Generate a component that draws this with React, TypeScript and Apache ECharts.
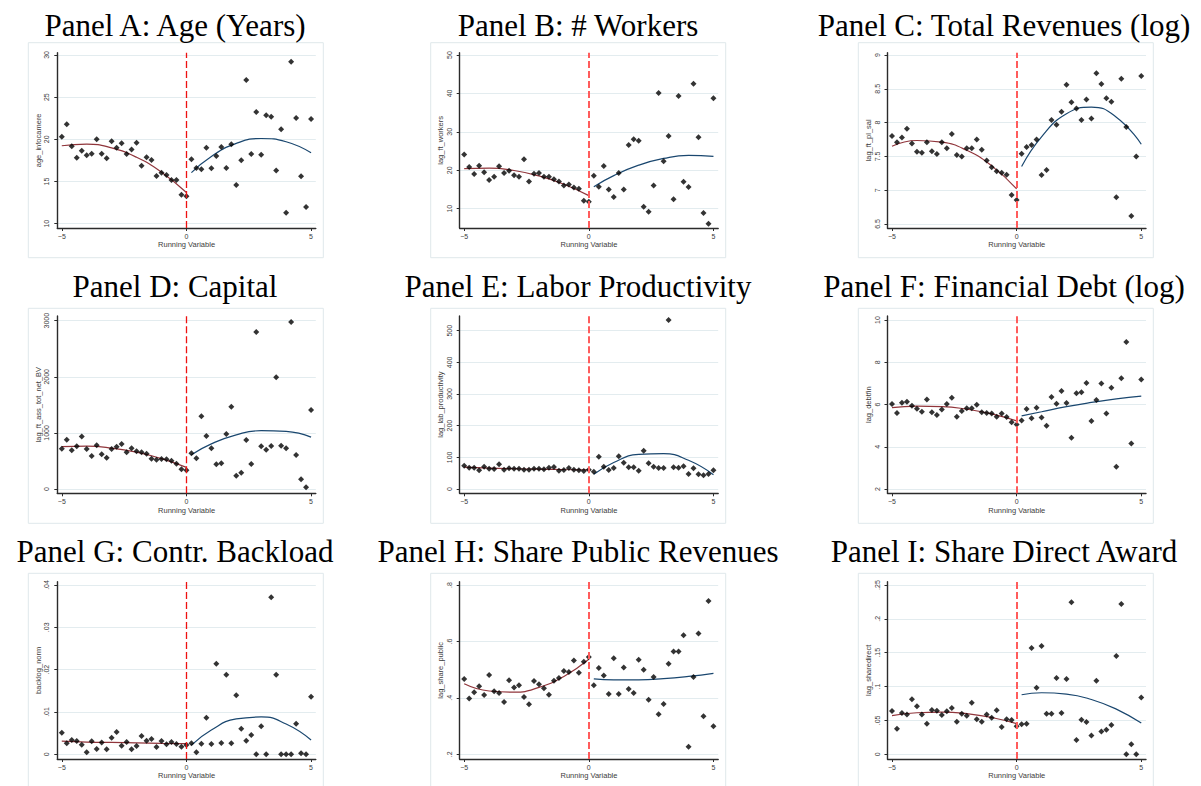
import React, { useEffect, useRef } from "react";
import * as echarts from "echarts";

// Bin midpoints of the running variable
const binsLeft = [-5, -4.8, -4.6, -4.4, -4.2, -4, -3.8, -3.6, -3.4, -3.2, -3, -2.8, -2.6, -2.4, -2.2, -2, -1.8, -1.6, -1.4, -1.2, -1, -0.8, -0.6, -0.4, -0.2, 0];
const binsRight = [0.2, 0.4, 0.6, 0.8, 1, 1.2, 1.4, 1.6, 1.8, 2, 2.2, 2.4, 2.6, 2.8, 3, 3.2, 3.4, 3.6, 3.8, 4, 4.2, 4.4, 4.6, 4.8, 5];
// Points at which the fitted polynomials are drawn
const fitXLeft = [-5, -4, -3, -2, -1, 0];
const fitXRight = [0.2, 1, 2, 3, 4, 5];
const xTicks = [-5, 0, 5];

// Panel A: Age (Years)
const ageLeft = [20.32, 21.78, 19.17, 17.83, 18.66, 18.1, 18.3, 20.0, 18.3, 17.75, 19.76, 19.01, 19.53, 18.26, 18.81, 19.6, 16.88, 17.87, 17.55, 15.65, 16.05, 15.77, 15.18, 15.18, 13.44, 13.24];
const ageRight = [17.63, 16.6, 16.44, 19.01, 16.56, 18.02, 19.09, 16.6, 19.41, 14.58, 17.51, 27.04, 18.26, 23.24, 18.18, 22.85, 22.69, 16.32, 21.19, 11.3, 29.21, 22.53, 15.61, 11.98, 22.41];
const ageFitLeft = [19.24, 19.44, 18.98, 17.87, 16.11, 13.7];
const ageFitRight = [16.05, 17.98, 19.52, 20.1, 19.71, 18.4];
const ageTicks = [10, 15, 20, 25, 30];

// Panel B: # Workers
const workersLeft = [24.14, 20.85, 19.02, 21.19, 19.46, 17.46, 18.33, 21.02, 19.28, 19.89, 18.68, 18.33, 22.84, 17.11, 19.11, 19.28, 18.33, 18.33, 17.64, 17.11, 16.07, 16.33, 15.55, 15.21, 12.08, 11.82];
const workersRight = [18.59, 15.73, 21.11, 15.03, 13.04, 19.28, 15.03, 26.57, 28.05, 27.7, 10.52, 9.22, 16.07, 40.11, 22.32, 28.92, 12.43, 39.33, 17.03, 15.64, 42.54, 28.57, 8.87, 6.1, 38.72];
const workersFitLeft = [20.41, 20.56, 19.94, 18.54, 16.36, 13.4];
const workersFitRight = [15.73, 18.6, 21.33, 23.08, 23.86, 23.6];
const workersTicks = [10, 20, 30, 40, 50];

// Panel C: Total Revenues (log)
const revenuesLeft = [7.8, 7.71, 7.78, 7.91, 7.69, 7.57, 7.555, 7.71, 7.575, 7.535, 7.71, 7.62, 7.83, 7.52, 7.5, 7.62, 7.62, 7.75, 7.6, 7.44, 7.34, 7.28, 7.26, 7.23, 6.93, 6.855];
const revenuesRight = [7.54, 7.64, 7.67, 7.75, 7.225, 7.3, 8.04, 7.97, 8.16, 8.56, 8.3, 8.21, 8.04, 8.34, 8.06, 8.73, 8.57, 8.36, 8.31, 6.895, 8.65, 7.935, 6.62, 7.5, 8.69];
const revenuesFitLeft = [7.65, 7.735, 7.71, 7.59, 7.36, 7.02];
const revenuesFitRight = [7.35, 7.79, 8.13, 8.23, 8.08, 7.68];
const revenuesTicks = [6.5, 7, 7.5, 8, 8.5, 9];

// Panel D: Capital
const capitalLeft = [719, 879, 689, 760, 938, 713, 588, 778, 618, 558, 713, 754, 802, 653, 725, 671, 653, 630, 540, 523, 535, 529, 505, 451, 350, 333];
const capitalRight = [636, 547, 1295, 944, 725, 439, 457, 980, 1467, 237, 291, 873, 445, 2798, 760, 701, 766, 1990, 772, 725, 2976, 606, 172, 30, 1408];
const capitalFitLeft = [755, 763, 730, 656, 541, 385];
const capitalFitRight = [612, 804, 966, 1040, 1027, 924];
const capitalTicks = [0, 1000, 2000, 3000];

// Panel E: Labor Productivity
const productivityLeft = [73.7, 67.4, 67.4, 59.0, 70.5, 64.2, 63.2, 77.9, 61.1, 65.3, 64.2, 64.2, 61.1, 61.1, 64.2, 64.2, 62.1, 67.4, 69.5, 57.9, 60.0, 66.3, 61.1, 59.0, 56.8, 61.1];
const productivityRight = [54.7, 102.1, 70.5, 60.0, 66.3, 103.2, 83.2, 68.4, 68.4, 57.9, 121.1, 81.1, 70.5, 66.3, 66.3, 533.7, 68.4, 67.4, 71.6, 47.4, 65.3, 46.3, 43.2, 47.4, 59.0];
const productivityFitLeft = [69, 66, 64, 62.5, 61.5, 60.5];
const productivityFitRight = [46.3, 83.6, 109.3, 111.6, 90.6, 45];
const productivityTicks = [0, 100, 200, 300, 400, 500];

// Panel F: Financial Debt (log)
const debtLeft = [6.02, 5.6, 6.09, 6.13, 5.94, 5.8, 5.66, 6.24, 5.64, 5.5, 5.77, 6.02, 6.32, 5.42, 5.69, 5.83, 5.83, 5.99, 5.64, 5.6, 5.58, 5.42, 5.58, 5.41, 5.16, 5.05];
const debtRight = [5.25, 5.79, 5.35, 5.85, 5.39, 5.0, 6.36, 6.04, 6.64, 6.07, 4.43, 6.53, 6.58, 7.02, 5.22, 6.21, 7.0, 5.58, 6.8, 3.06, 7.24, 8.96, 4.16, null, 7.19];
const debtFitLeft = [5.85, 5.925, 5.905, 5.78, 5.56, 5.23];
const debtFitRight = [5.46, 5.66, 5.9, 6.1, 6.27, 6.4];
const debtTicks = [2, 4, 6, 8, 10];

// Panel G: Contr. Backload
const backlogLeft = [0.00512, 0.0026, 0.00339, 0.00315, 0.00228, 0.00047, 0.00307, 0.00126, 0.00276, 0.00118, 0.00394, 0.00528, 0.00205, 0.00291, 0.00118, 0.00197, 0.00433, 0.00323, 0.00362, 0.00173, 0.00315, 0.00236, 0.00291, 0.00244, 0.00181, 0.0022];
const backlogRight = [0.0026, 0.00047, 0.00252, 0.00866, 0.00244, 0.02142, 0.00268, 0.01882, 0.0026, 0.01394, 0.00606, 0.00323, 0.00457, 0, 0.00661, 0, 0.03709, 0.01882, 0, 0, 0, 0.00724, 0.00024, 0, 0.01362];
const backlogFitLeft = [0.0031, 0.0029, 0.0028, 0.0027, 0.0026, 0.0025];
const backlogFitRight = [0.00217, 0.00576, 0.00835, 0.00882, 0.00716, 0.00339];
const backlogTicks = [0, 0.01, 0.02, 0.03, 0.04];

// Panel H: Share Public Revenues
const publicLeft = [0.467, 0.398, 0.42, 0.441, 0.41, 0.481, 0.423, 0.417, 0.385, 0.462, 0.437, 0.445, 0.403, 0.377, 0.46, 0.448, 0.434, 0.411, 0.461, 0.47, 0.495, 0.492, 0.532, 0.489, 0.528, 0.545];
const publicRight = [0.445, 0.506, 0.479, 0.414, 0.54, 0.414, 0.508, 0.431, 0.417, 0.535, 0.5, 0.393, 0.474, 0.342, 0.378, 0.521, 0.564, 0.564, 0.622, 0.227, 0.474, 0.628, 0.335, 0.743, 0.299];
const publicFitLeft = [0.45, 0.4243, 0.42, 0.437, 0.476, 0.537];
const publicFitRight = [0.467, 0.464, 0.464, 0.468, 0.476, 0.487];
const publicTicks = [0.2, 0.4, 0.6, 0.8];

// Panel I: Share Direct Award
const directLeft = [0.064, 0.0379, 0.061, 0.0586, 0.0812, 0.0709, 0.0586, 0.0453, 0.0655, 0.0645, 0.0581, 0.0635, 0.0684, 0.0482, 0.06, 0.0571, 0.0763, 0.0517, 0.0482, 0.0586, 0.0541, 0.065, 0.0404, 0.0517, 0.0507, 0.0413];
const directRight = [0.0443, 0.0453, 0.157, 0.0984, 0.16, 0.06, 0.06, 0.1127, 0.061, 0.1112, 0.2244, 0.0212, 0.0512, 0.0477, 0.0276, 0.1088, 0.0335, 0.0364, 0.0433, 0.1452, 0.222, 0, 0.0148, 0, 0.0837];
const directFitLeft = [0.0571, 0.0614, 0.0624, 0.0601, 0.0544, 0.0453];
const directFitRight = [0.0879, 0.0909, 0.089, 0.081, 0.0667, 0.0462];
const directTicks = [0, 0.05, 0.1, 0.15, 0.2, 0.25];

type Panel = {
  title: string;
  yName: string;
  left: (number | null)[];
  right: (number | null)[];
  fitLeft: number[];
  fitRight: number[];
  ticks: number[];
  yMin: number;
  yMax: number;
};

const panels: Panel[] = [
  { title: "Panel A: Age (Years)", yName: "age_infocamere", left: ageLeft, right: ageRight, fitLeft: ageFitLeft, fitRight: ageFitRight, ticks: ageTicks, yMin: 9.49, yMax: 30.27 },
  { title: "Panel B: # Workers", yName: "lag_ft_workers", left: workersLeft, right: workersRight, fitLeft: workersFitLeft, fitRight: workersFitRight, ticks: workersTicks, yMin: 4.98, yMax: 50.6 },
  { title: "Panel C: Total Revenues (log)", yName: "lag_ft_pl_sal", left: revenuesLeft, right: revenuesRight, fitLeft: revenuesFitLeft, fitRight: revenuesFitRight, ticks: revenuesTicks, yMin: 6.441, yMax: 9.034 },
  { title: "Panel D: Capital", yName: "lag_ft_ass_tot_net_BV", left: capitalLeft, right: capitalRight, fitLeft: capitalFitLeft, fitRight: capitalFitRight, ticks: capitalTicks, yMin: -76.6, yMax: 3083.8 },
  { title: "Panel E: Labor Productivity", yName: "lag_lab_productivity", left: productivityLeft, right: productivityRight, fitLeft: productivityFitLeft, fitRight: productivityFitRight, ticks: productivityTicks, yMin: -13.6, yMax: 546.4 },
  { title: "Panel F: Financial Debt (log)", yName: "lag_debtfin", left: debtLeft, right: debtRight, fitLeft: debtFitLeft, fitRight: debtFitRight, ticks: debtTicks, yMin: 1.8, yMax: 10.19 },
  { title: "Panel G: Contr. Backload", yName: "backlog_norm", left: backlogLeft, right: backlogRight, fitLeft: backlogFitLeft, fitRight: backlogFitRight, ticks: backlogTicks, yMin: -0.00111, yMax: 0.04078 },
  { title: "Panel H: Share Public Revenues", yName: "lag_share_public", left: publicLeft, right: publicRight, fitLeft: publicFitLeft, fitRight: publicFitRight, ticks: publicTicks, yMin: 0.1833, yMax: 0.8117 },
  { title: "Panel I: Share Direct Award", yName: "lag_sharedirect", left: directLeft, right: directRight, fitLeft: directFitLeft, fitRight: directFitRight, ticks: directTicks, yMin: -0.00694, yMax: 0.2549 },
];

// Layout of the 3 x 3 arrangement
const colGridLeft = [57.3, 459.7, 887.5];
const gridWidth = 258.5;
const rowGridTop = [52.7, 316, 581.7];
const rowGridHeight = [175.3, 177.3, 177.3];
const colFrameLeft = [28.3, 430.7, 858.3];
const rowFrameTop = [42.7, 308.3, 573.3];
const frameWidth = 295;
const frameHeight = 215;
const colTitleX = [175, 578, 1004];
const rowTitleY = [25.5, 286.5, 551.5];

const SANS = "'Liberation Sans', Arial, sans-serif";
const AXIS_COLOR = "#2b2b2b";
const LABEL_COLOR = "#3c3c3c";

const pairs = (xs: number[], ys: (number | null)[]) =>
  xs.map((x, i) => [x, ys[i]]).filter((p) => p[1] !== null);

const fmtY = (v: number) => {
  let s = parseFloat(Number(v).toPrecision(6)).toString();
  if (s.startsWith("0.")) s = s.slice(1);
  if (s.startsWith("-0.")) s = "-" + s.slice(2);
  return s;
};
const fmtX = (v: number) => (v < 0 ? "\u2212" + Math.abs(v) : String(v));

function buildOption() {
  const grid: any[] = [];
  const xAxis: any[] = [];
  const yAxis: any[] = [];
  const series: any[] = [];
  const graphic: any[] = [];

  panels.forEach((p, i) => {
    const col = i % 3;
    const row = Math.floor(i / 3);

    grid.push({
      left: colGridLeft[col],
      top: rowGridTop[row],
      width: gridWidth,
      height: rowGridHeight[row],
      containLabel: false,
      outerBoundsMode: "none",
    });

    xAxis.push({
      gridIndex: i,
      type: "value",
      min: -5.18,
      max: 5.19,
      name: "Running Variable",
      nameLocation: "middle",
      nameGap: 12.5,
      nameTextStyle: { fontSize: 7.5, color: LABEL_COLOR, fontFamily: SANS },
      axisLine: { show: true, onZero: false, lineStyle: { color: AXIS_COLOR, width: 1.4 } },
      axisTick: { show: true, length: 3, customValues: xTicks, lineStyle: { color: AXIS_COLOR, width: 1 } },
      axisLabel: { customValues: xTicks, formatter: fmtX, fontSize: 7, color: LABEL_COLOR, margin: 5, fontFamily: SANS },
      splitLine: { show: false },
    });

    yAxis.push({
      gridIndex: i,
      type: "value",
      min: p.yMin,
      max: p.yMax,
      name: p.yName,
      nameLocation: "middle",
      nameRotate: 90,
      nameGap: 13,
      nameTextStyle: { fontSize: 7.5, color: LABEL_COLOR, fontFamily: SANS },
      axisLine: { show: true, onZero: false, lineStyle: { color: AXIS_COLOR, width: 1.4 } },
      axisTick: { show: true, length: 3, customValues: p.ticks, lineStyle: { color: AXIS_COLOR, width: 1 } },
      axisLabel: { customValues: p.ticks, formatter: fmtY, rotate: 90, fontSize: 7, color: LABEL_COLOR, margin: 7, fontFamily: SANS },
      splitLine: { show: true, lineStyle: { color: "#e3ecef", width: 1 } },
    });

    const cutoffStyle =
      col === 0
        ? { color: "#ee1111", width: 1.3, type: [7, 3] }
        : { color: "#ff5c5c", width: 2, type: [7, 3] };

    series.push({
      type: "line",
      xAxisIndex: i,
      yAxisIndex: i,
      data: pairs(fitXLeft, p.fitLeft),
      smooth: true,
      showSymbol: false,
      silent: true,
      lineStyle: { color: "#90353b", width: 1.2 },
      z: 2,
      markLine: {
        silent: true,
        symbol: ["none", "none"],
        label: { show: false },
        lineStyle: cutoffStyle,
        data: [{ xAxis: 0 }],
      },
    });
    series.push({
      type: "line",
      xAxisIndex: i,
      yAxisIndex: i,
      data: pairs(fitXRight, p.fitRight),
      smooth: true,
      showSymbol: false,
      silent: true,
      lineStyle: { color: "#1a476f", width: 1.2 },
      z: 2,
    });
    series.push({
      type: "scatter",
      xAxisIndex: i,
      yAxisIndex: i,
      data: [...pairs(binsLeft, p.left), ...pairs(binsRight, p.right)],
      symbol: "diamond",
      symbolSize: 6,
      silent: true,
      itemStyle: { color: "#000000" },
      z: 3,
    });

    graphic.push({
      type: "rect",
      z: -10,
      silent: true,
      shape: { x: colFrameLeft[col], y: rowFrameTop[row], width: frameWidth, height: frameHeight },
      style: { fill: "none", stroke: "#dfe8eb", lineWidth: 1 },
    });
    graphic.push({
      type: "text",
      silent: true,
      x: colTitleX[col],
      y: rowTitleY[row],
      style: {
        text: p.title,
        fill: "#000000",
        font: "31px 'Liberation Serif', 'Times New Roman', serif",
        align: "center",
        verticalAlign: "middle",
      },
    });
  });

  return {
    animation: false,
    backgroundColor: "#ffffff",
    grid,
    xAxis,
    yAxis,
    series,
    graphic,
  };
}

export default function App() {
  const ref = useRef<HTMLDivElement>(null);
  useEffect(() => {
    if (!ref.current) return;
    const chart = echarts.init(ref.current, null, { renderer: "svg" });
    chart.setOption(buildOption() as any);
    return () => chart.dispose();
  }, []);
  return (
    <div
      ref={ref}
      style={{ position: "absolute", left: 0, top: 0, width: 1201, height: 786, background: "#ffffff" }}
    />
  );
}
